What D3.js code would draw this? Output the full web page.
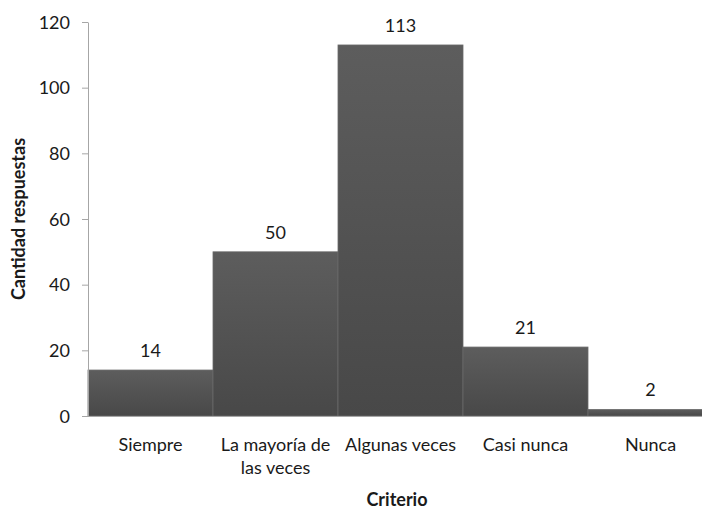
<!DOCTYPE html>
<html>
<head>
<meta charset="utf-8">
<script src="https://cdn.jsdelivr.net/npm/d3@7"></script>
<style>
  body { margin: 0; background: #fff; }
  text { font-family: Lato, 'Open Sans', sans-serif; fill: #1a1a1a; }
</style>
</head>
<body>
<div id="chart-wrapper"></div>
<script>
// data
var categories = ['Siempre', 'La mayoría de las veces', 'Algunas veces', 'Casi nunca', 'Nunca'];
var counts = [14, 50, 113, 21, 2];
var y_ticks = [0, 20, 40, 60, 80, 100, 120];

var total_width = 702, total_height = 510;
// plot runs a bit past the right edge, like the original
var margin = {top: 22, right: -11, bottom: 94, left: 88};
var draw_width = total_width - margin.left - margin.right;
var chart_height = total_height - margin.top - margin.bottom;
var font_size = 18;

var dataset = categories.map(function(c, i) { return {cat: c, value: counts[i]}; });

var svg = d3.select('#chart-wrapper').append('svg')
    .attr('width', total_width)
    .attr('height', total_height);

var defs = svg.append('defs');
var grad = defs.append('linearGradient')
    .attr('id', 'bar-grad')
    .attr('x1', 0).attr('y1', 0).attr('x2', 0).attr('y2', 1);
grad.append('stop').attr('offset', '0%').attr('stop-color', '#5d5d5d');
grad.append('stop').attr('offset', '100%').attr('stop-color', '#484848');

var draw_area = svg.append('g')
    .attr('transform', 'translate(' + margin.left + ',' + margin.top + ')');

var scale_x = d3.scaleBand()
    .domain(categories)
    .range([0, draw_width])
    .padding(0);

var scale_y = d3.scaleLinear()
    .domain([0, 120])
    .range([chart_height, 0]);

// bars
draw_area.selectAll('.bar')
    .data(dataset)
    .enter()
  .append('rect')
    .attr('class', 'bar')
    .attr('x', function(d) { return scale_x(d.cat); })
    .attr('y', function(d) { return scale_y(d.value); })
    .attr('width', scale_x.bandwidth())
    .attr('height', function(d) { return chart_height - scale_y(d.value); })
    .attr('fill', 'url(#bar-grad)')
    .attr('stroke', '#6a6a6a')
    .attr('stroke-width', 0.8);

// value labels
draw_area.selectAll('.value')
    .data(dataset)
    .enter()
  .append('text')
    .attr('class', 'value')
    .attr('x', function(d) { return scale_x(d.cat) + scale_x.bandwidth() / 2; })
    .attr('y', function(d) { return scale_y(d.value) - 13; })
    .attr('text-anchor', 'middle')
    .style('font-size', font_size + 'px')
    .text(function(d) { return d.value; });

// y axis
var axis_y = d3.axisLeft(scale_y)
    .tickValues(y_ticks)
    .tickSizeInner(6)
    .tickSizeOuter(0)
    .tickPadding(12);
var gy = draw_area.append('g').attr('id', 'y-axis').call(axis_y);
gy.selectAll('text').style('font-size', font_size + 'px').attr('dy', '0.35em');
gy.selectAll('line, path').attr('stroke', '#a6a6a6');

// x axis
var axis_x = d3.axisBottom(scale_x)
    .tickSize(0)
    .tickPadding(22);
var gx = draw_area.append('g')
    .attr('id', 'x-axis')
    .attr('transform', 'translate(0,' + chart_height + ')')
    .call(axis_x);
gx.select('path').attr('stroke', '#a6a6a6').attr('d', 'M-6,0.5H' + draw_width);
gx.selectAll('text').style('font-size', font_size + 'px').call(wrap, scale_x.bandwidth());

// axis titles
svg.append('text')
    .attr('transform', 'translate(25,' + (margin.top + chart_height / 2) + ') rotate(-90)')
    .attr('text-anchor', 'middle')
    .style('font-size', font_size + 'px')
    .style('font-weight', 'bold')
    .text('Cantidad respuestas');

svg.append('text')
    .attr('x', 397)
    .attr('y', 506)
    .attr('text-anchor', 'middle')
    .style('font-size', font_size + 'px')
    .style('font-weight', 'bold')
    .text('Criterio');

// break long tick labels onto several lines
function wrap(text, width) {
    text.each(function() {
        var t = d3.select(this);
        var words = t.text().split(/\s+/);
        var y = t.attr('y');
        var dy = parseFloat(t.attr('dy'));
        var line = [];
        var line_no = 0;
        var tspan = t.text(null).append('tspan').attr('x', 0).attr('y', y).attr('dy', dy + 'em');
        words.forEach(function(w) {
            line.push(w);
            tspan.text(line.join(' '));
            if (tspan.node().getComputedTextLength() > width && line.length > 1) {
                line.pop();
                tspan.text(line.join(' '));
                line = [w];
                tspan = t.append('tspan').attr('x', 0).attr('y', y)
                    .attr('dy', (++line_no * 1.3 + dy) + 'em').text(w);
            }
        });
    });
}
</script>
</body>
</html>
